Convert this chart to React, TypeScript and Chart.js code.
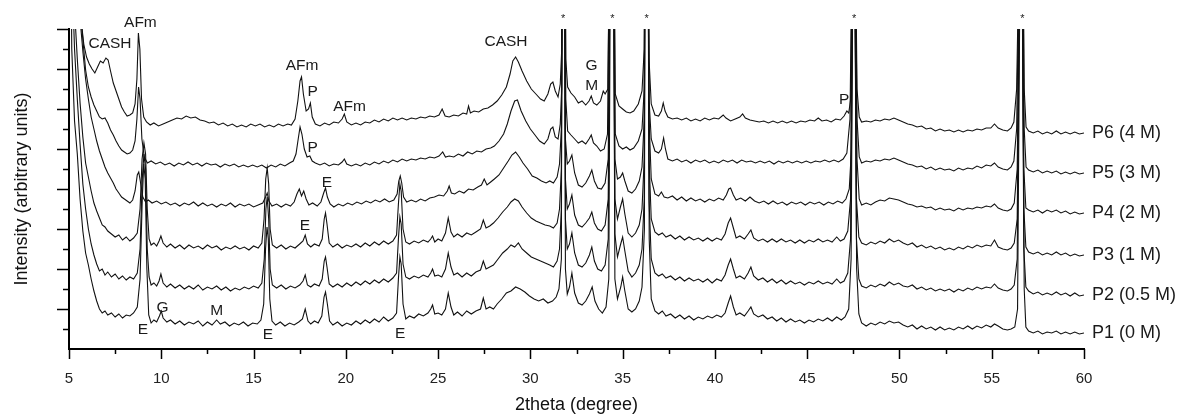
import React, { useEffect, useRef } from 'react';
import { Chart, registerables } from 'chart.js';

Chart.register(...registerables);

const SERIES_LABELS = ['P1 (0 M)', 'P2 (0.5 M)', 'P3 (1 M)', 'P4 (2 M)', 'P5 (3 M)', 'P6 (4 M)'];
const X_MAJOR = [5, 10, 15, 20, 25, 30, 35, 40, 45, 50, 55, 60];
const X_MINOR = [7.5, 12.5, 17.5, 22.5, 27.5, 32.5, 37.5, 42.5, 47.5, 52.5, 57.5];
const Y_MAJOR = [40, 80, 120, 160, 200, 240, 280, 320];
const Y_MINOR = [20, 60, 100, 140, 180, 220, 260, 300];

type Pt = [number, number];

const P1: Pt[] = [
[5.0,600],[5.15,300],[5.3,228],[5.45,195],[5.6,150],[5.75,118],[5.9,96],[6.05,84],[6.2,70],[6.35,58],[6.5,48],[6.65,40],[6.8,36],[6.95,38],[7.1,34],[7.3,36],[7.5,32],[7.7,35],[7.9,31],[8.1,34],[8.3,33],[8.5,36],[8.7,42],[8.85,70],[8.97,150],[9.05,185],[9.13,170],[9.22,80],[9.32,34],[9.45,26],[9.6,29],[9.75,27],[9.9,33],[10.0,38],[10.1,31],[10.3,27],[10.5,29],[10.75,25],[11.0,28],[11.25,24],[11.5,27],[11.75,25],[12.0,28],[12.25,23],[12.5,27],[12.75,24],[13.0,29],[13.2,25],[13.45,27],[13.7,23],[13.95,26],[14.2,24],[14.45,27],[14.7,23],[14.95,26],[15.2,25],[15.4,29],[15.55,45],[15.65,100],[15.73,122],[15.8,110],[15.88,50],[16.0,28],[16.2,24],[16.45,27],[16.7,23],[16.95,26],[17.2,24],[17.45,27],[17.65,30],[17.8,40],[17.95,28],[18.1,25],[18.3,28],[18.5,26],[18.7,33],[18.82,52],[18.9,57],[19.0,45],[19.12,28],[19.3,24],[19.55,27],[19.8,23],[20.05,26],[20.3,24],[20.55,28],[20.8,25],[21.05,29],[21.3,26],[21.55,30],[21.8,27],[22.05,32],[22.3,28],[22.55,31],[22.75,36],[22.85,70],[22.93,92],[23.0,85],[23.1,45],[23.25,30],[23.45,33],[23.7,31],[23.95,35],[24.2,33],[24.45,36],[24.6,40],[24.7,44],[24.82,35],[25.0,36],[25.2,34],[25.4,40],[25.55,56],[25.7,42],[25.85,34],[26.05,37],[26.3,33],[26.55,38],[26.8,35],[27.05,38],[27.3,40],[27.45,51],[27.6,40],[27.8,42],[28.0,40],[28.2,45],[28.45,50],[28.7,56],[28.95,58],[29.2,62],[29.45,60],[29.7,57],[29.95,53],[30.2,50],[30.45,48],[30.7,50],[30.95,46],[31.2,48],[31.4,52],[31.55,60],[31.68,90],[31.73,560],[31.83,560],[31.9,80],[32.0,55],[32.12,62],[32.25,76],[32.4,56],[32.6,46],[32.8,44],[33.0,48],[33.2,55],[33.35,62],[33.5,48],[33.7,40],[33.9,36],[34.1,42],[34.25,70],[34.38,560],[34.48,560],[34.58,70],[34.72,50],[34.9,62],[35.0,72],[35.12,58],[35.3,40],[35.5,37],[35.7,40],[35.9,48],[36.05,62],[36.18,120],[36.24,560],[36.36,560],[36.44,110],[36.55,50],[36.75,38],[36.95,35],[37.15,38],[37.35,33],[37.6,35],[37.85,31],[38.1,34],[38.35,30],[38.6,33],[38.85,29],[39.1,32],[39.35,30],[39.6,33],[39.85,31],[40.1,34],[40.35,32],[40.55,36],[40.72,46],[40.85,53],[41.0,42],[41.15,34],[41.35,36],[41.6,33],[41.8,38],[41.95,42],[42.1,35],[42.35,32],[42.6,34],[42.85,30],[43.1,32],[43.35,28],[43.6,31],[43.85,27],[44.1,30],[44.35,27],[44.6,29],[44.85,26],[45.1,29],[45.35,27],[45.6,30],[45.85,28],[46.1,31],[46.35,28],[46.6,32],[46.85,29],[47.05,32],[47.25,40],[47.38,90],[47.53,560],[47.68,80],[47.8,35],[47.95,26],[48.2,23],[48.45,26],[48.7,24],[48.95,27],[49.2,25],[49.45,28],[49.7,26],[49.95,27],[50.2,24],[50.45,22],[50.7,24],[50.95,20],[51.2,23],[51.45,20],[51.7,22],[51.95,19],[52.2,22],[52.45,19],[52.7,21],[52.95,19],[53.2,22],[53.45,20],[53.7,23],[53.95,20],[54.2,23],[54.45,21],[54.7,24],[54.95,22],[55.15,25],[55.35,23],[55.6,20],[55.85,19],[56.05,20],[56.25,22],[56.4,40],[56.6,560],[56.76,60],[56.85,22],[57.0,18],[57.25,16],[57.5,18],[57.75,15],[58.0,17],[58.25,16],[58.5,18],[58.75,15],[59.0,17],[59.25,15],[59.5,17],[59.75,15],[60.0,16]
];

const P2: Pt[] = [
[5.0,600],[5.15,380],[5.3,300],[5.45,250],[5.6,205],[5.75,165],[5.9,140],[6.05,120],[6.2,105],[6.35,94],[6.5,85],[6.65,78],[6.8,80],[6.95,74],[7.1,77],[7.3,72],[7.5,75],[7.7,70],[7.9,73],[8.1,69],[8.3,72],[8.5,70],[8.7,76],[8.85,100],[8.97,170],[9.06,195],[9.15,180],[9.24,100],[9.34,72],[9.45,64],[9.6,66],[9.75,63],[9.88,68],[9.98,75],[10.1,66],[10.3,62],[10.5,65],[10.75,61],[11.0,64],[11.25,60],[11.5,63],[11.75,60],[12.0,64],[12.25,59],[12.5,62],[12.75,60],[13.0,63],[13.25,59],[13.5,62],[13.75,58],[14.0,61],[14.25,59],[14.5,62],[14.75,60],[15.0,63],[15.25,61],[15.45,66],[15.58,90],[15.67,140],[15.74,152],[15.82,130],[15.9,80],[16.02,64],[16.25,61],[16.5,64],[16.75,60],[17.0,63],[17.25,61],[17.5,64],[17.68,68],[17.8,74],[17.92,64],[18.1,62],[18.3,65],[18.55,63],[18.72,70],[18.83,88],[18.9,92],[18.98,82],[19.1,65],[19.3,62],[19.55,65],[19.8,62],[20.05,66],[20.3,63],[20.55,67],[20.8,64],[21.05,68],[21.3,65],[21.55,69],[21.8,66],[22.05,70],[22.3,67],[22.55,71],[22.75,76],[22.85,110],[22.93,132],[23.0,125],[23.1,85],[23.25,72],[23.45,70],[23.7,73],[23.95,71],[24.2,74],[24.45,72],[24.6,76],[24.7,80],[24.82,73],[25.0,74],[25.2,72],[25.4,80],[25.55,96],[25.7,82],[25.85,74],[26.05,76],[26.3,72],[26.55,76],[26.8,73],[27.05,77],[27.3,79],[27.45,88],[27.6,80],[27.8,82],[28.0,84],[28.25,90],[28.5,96],[28.75,100],[28.95,104],[29.15,102],[29.35,106],[29.55,100],[29.8,96],[30.05,92],[30.3,90],[30.55,88],[30.8,86],[31.05,84],[31.25,82],[31.45,88],[31.58,100],[31.68,140],[31.74,560],[31.84,560],[31.9,130],[32.0,100],[32.12,105],[32.25,116],[32.4,96],[32.6,84],[32.8,82],[33.0,86],[33.2,94],[33.33,102],[33.47,88],[33.65,80],[33.85,78],[34.05,84],[34.22,110],[34.37,560],[34.47,560],[34.58,115],[34.72,92],[34.88,104],[35.0,112],[35.12,98],[35.3,78],[35.5,72],[35.7,76],[35.9,84],[36.05,100],[36.17,150],[36.23,560],[36.35,560],[36.43,150],[36.55,90],[36.75,76],[36.95,73],[37.15,75],[37.35,71],[37.6,73],[37.85,69],[38.1,72],[38.35,68],[38.6,71],[38.85,68],[39.1,70],[39.35,67],[39.6,70],[39.85,66],[40.1,70],[40.35,68],[40.55,74],[40.72,84],[40.85,90],[41.0,80],[41.15,71],[41.35,73],[41.6,70],[41.8,76],[41.95,82],[42.1,73],[42.35,69],[42.6,71],[42.85,67],[43.1,70],[43.35,66],[43.6,69],[43.85,65],[44.1,68],[44.35,65],[44.6,67],[44.85,64],[45.1,67],[45.35,65],[45.6,68],[45.85,65],[46.1,67],[46.35,65],[46.6,70],[46.8,66],[47.0,68],[47.2,76],[47.35,110],[47.52,560],[47.67,110],[47.8,70],[47.95,63],[48.2,61],[48.45,64],[48.7,62],[48.95,65],[49.2,63],[49.45,67],[49.7,64],[49.95,66],[50.2,63],[50.45,62],[50.7,64],[50.95,60],[51.2,62],[51.45,59],[51.7,61],[51.95,58],[52.2,60],[52.45,58],[52.7,60],[52.95,57],[53.2,60],[53.45,58],[53.7,61],[53.95,59],[54.2,62],[54.45,60],[54.7,62],[54.95,61],[55.15,65],[55.35,61],[55.6,59],[55.85,58],[56.05,60],[56.22,64],[56.38,90],[56.59,560],[56.74,100],[56.85,62],[57.0,58],[57.25,55],[57.5,57],[57.75,54],[58.0,56],[58.25,54],[58.5,57],[58.75,54],[59.0,56],[59.25,53],[59.5,56],[59.75,53],[60.0,54]
];

const P3: Pt[] = [
[5.0,600],[5.15,420],[5.3,340],[5.45,290],[5.6,246],[5.75,212],[5.9,186],[6.05,172],[6.2,158],[6.35,146],[6.5,138],[6.65,131],[6.8,124],[6.95,122],[7.1,118],[7.3,115],[7.5,112],[7.7,114],[7.9,109],[8.1,112],[8.3,108],[8.5,111],[8.7,116],[8.85,140],[8.96,190],[9.06,206],[9.15,195],[9.24,140],[9.34,110],[9.45,104],[9.6,106],[9.75,103],[9.88,108],[9.98,113],[10.1,106],[10.3,102],[10.5,105],[10.75,101],[11.0,104],[11.25,100],[11.5,104],[11.75,101],[12.0,103],[12.25,100],[12.5,104],[12.75,101],[13.0,103],[13.25,99],[13.5,102],[13.75,100],[14.0,103],[14.25,100],[14.5,102],[14.75,99],[15.0,103],[15.25,101],[15.45,106],[15.57,130],[15.66,170],[15.74,181],[15.82,165],[15.9,120],[16.02,104],[16.25,101],[16.5,104],[16.75,100],[17.0,103],[17.25,101],[17.5,105],[17.68,108],[17.8,114],[17.92,105],[18.1,102],[18.3,105],[18.55,103],[18.72,110],[18.83,130],[18.9,136],[18.98,125],[19.1,106],[19.3,102],[19.55,105],[19.8,101],[20.05,104],[20.3,102],[20.55,105],[20.8,102],[21.05,106],[21.3,103],[21.55,107],[21.8,104],[22.05,108],[22.3,105],[22.55,108],[22.75,114],[22.85,145],[22.93,165],[23.0,158],[23.1,120],[23.25,107],[23.45,105],[23.7,108],[23.95,106],[24.2,109],[24.45,107],[24.6,110],[24.7,113],[24.82,107],[25.0,110],[25.2,108],[25.4,116],[25.55,131],[25.7,117],[25.85,112],[26.05,115],[26.3,112],[26.55,116],[26.8,114],[27.05,117],[27.3,120],[27.45,129],[27.6,121],[27.8,123],[28.0,126],[28.25,131],[28.5,137],[28.75,142],[28.95,147],[29.15,150],[29.35,148],[29.55,142],[29.8,136],[30.05,131],[30.3,128],[30.55,126],[30.8,124],[31.05,123],[31.25,121],[31.45,126],[31.58,140],[31.68,180],[31.74,560],[31.84,560],[31.9,170],[32.0,140],[32.12,145],[32.25,154],[32.4,134],[32.6,124],[32.8,122],[33.0,126],[33.2,131],[33.33,137],[33.47,126],[33.65,120],[33.85,118],[34.05,124],[34.22,150],[34.37,560],[34.47,560],[34.58,150],[34.72,130],[34.88,142],[35.0,150],[35.12,135],[35.3,116],[35.5,112],[35.7,116],[35.9,124],[36.05,140],[36.17,190],[36.23,560],[36.35,560],[36.43,190],[36.55,130],[36.75,117],[36.95,114],[37.15,116],[37.35,112],[37.6,114],[37.85,110],[38.1,113],[38.35,109],[38.6,112],[38.85,109],[39.1,111],[39.35,108],[39.6,111],[39.85,108],[40.1,111],[40.35,109],[40.55,115],[40.72,126],[40.85,131],[41.0,121],[41.15,111],[41.35,113],[41.6,110],[41.8,115],[41.95,119],[42.1,111],[42.35,108],[42.6,110],[42.85,107],[43.1,110],[43.35,107],[43.6,110],[43.85,107],[44.1,109],[44.35,106],[44.6,109],[44.85,106],[45.1,109],[45.35,107],[45.6,110],[45.85,107],[46.1,109],[46.35,107],[46.6,112],[46.8,108],[47.0,110],[47.2,118],[47.35,150],[47.52,560],[47.67,150],[47.8,112],[47.95,106],[48.2,104],[48.45,107],[48.7,105],[48.95,108],[49.2,106],[49.45,110],[49.7,107],[49.95,109],[50.2,106],[50.45,104],[50.7,106],[50.95,102],[51.2,104],[51.45,101],[51.7,103],[51.95,100],[52.2,102],[52.45,99],[52.7,101],[52.95,99],[53.2,102],[53.45,100],[53.7,103],[53.95,101],[54.2,104],[54.45,102],[54.7,104],[54.95,103],[55.15,109],[55.35,102],[55.6,100],[55.85,99],[56.05,101],[56.22,106],[56.38,130],[56.6,560],[56.74,140],[56.85,102],[57.0,97],[57.25,95],[57.5,97],[57.75,94],[58.0,96],[58.25,94],[58.5,97],[58.75,94],[59.0,96],[59.25,93],[59.5,95],[59.75,93],[60.0,94]
];

const P4: Pt[] = [
[5.0,600],[5.2,480],[5.4,400],[5.6,330],[5.76,296],[5.9,270],[6.05,250],[6.2,232],[6.35,220],[6.5,208],[6.65,198],[6.8,190],[6.95,182],[7.1,176],[7.25,171],[7.4,166],[7.55,160],[7.7,156],[7.85,152],[8.0,150],[8.15,148],[8.3,146],[8.45,149],[8.58,158],[8.7,174],[8.78,177],[8.88,166],[9.0,152],[9.15,147],[9.3,149],[9.5,146],[9.75,148],[10.0,145],[10.25,147],[10.5,144],[10.75,146],[11.0,143],[11.25,146],[11.5,144],[11.75,147],[12.0,143],[12.25,146],[12.5,143],[12.75,145],[13.0,142],[13.25,145],[13.5,143],[13.75,146],[14.0,142],[14.25,145],[14.5,143],[14.75,145],[15.0,142],[15.25,144],[15.5,146],[15.65,152],[15.74,156],[15.83,148],[16.0,143],[16.25,145],[16.5,142],[16.75,145],[17.0,143],[17.2,147],[17.35,155],[17.48,160],[17.6,153],[17.72,158],[17.85,150],[18.0,144],[18.2,146],[18.45,143],[18.65,147],[18.8,156],[18.9,161],[19.0,152],[19.15,145],[19.35,142],[19.6,145],[19.85,143],[20.1,146],[20.35,144],[20.6,147],[20.85,145],[21.1,148],[21.35,146],[21.6,149],[21.85,147],[22.1,150],[22.35,147],[22.6,149],[22.78,155],[22.87,168],[22.95,173],[23.03,166],[23.13,152],[23.3,147],[23.55,149],[23.8,147],[24.05,150],[24.3,148],[24.55,151],[24.8,152],[25.05,154],[25.3,153],[25.5,158],[25.6,163],[25.72,156],[25.9,155],[26.15,158],[26.4,156],[26.65,160],[26.9,159],[27.15,162],[27.35,164],[27.5,170],[27.65,164],[27.85,167],[28.05,170],[28.3,174],[28.55,181],[28.8,188],[29.0,194],[29.2,197],[29.4,192],[29.6,186],[29.85,180],[30.1,173],[30.35,171],[30.6,168],[30.85,166],[31.05,168],[31.25,166],[31.45,172],[31.58,185],[31.68,220],[31.74,560],[31.84,560],[31.9,210],[32.0,185],[32.12,188],[32.25,194],[32.4,176],[32.6,164],[32.8,162],[33.0,166],[33.2,173],[33.33,179],[33.47,168],[33.65,161],[33.85,160],[34.05,166],[34.22,190],[34.37,560],[34.47,560],[34.58,190],[34.72,170],[34.88,172],[35.0,176],[35.12,168],[35.3,158],[35.5,156],[35.7,160],[35.9,168],[36.05,182],[36.17,230],[36.23,560],[36.35,560],[36.43,230],[36.55,170],[36.75,155],[36.95,153],[37.1,157],[37.25,152],[37.45,151],[37.7,153],[37.95,149],[38.2,152],[38.45,148],[38.7,151],[38.95,148],[39.2,150],[39.45,147],[39.7,150],[39.95,148],[40.2,151],[40.45,149],[40.62,154],[40.75,160],[40.85,161],[41.0,154],[41.15,149],[41.4,151],[41.65,148],[41.9,152],[42.15,148],[42.4,146],[42.65,148],[42.9,145],[43.15,148],[43.4,145],[43.65,147],[43.9,144],[44.15,147],[44.4,145],[44.65,147],[44.9,144],[45.15,147],[45.4,145],[45.65,147],[45.9,144],[46.15,147],[46.4,145],[46.65,148],[46.9,146],[47.1,150],[47.28,160],[47.4,200],[47.54,560],[47.7,190],[47.82,150],[47.95,144],[48.2,146],[48.45,144],[48.7,147],[48.95,149],[49.2,148],[49.45,151],[49.7,150],[49.95,149],[50.2,147],[50.45,145],[50.7,144],[50.95,142],[51.2,143],[51.45,141],[51.7,142],[51.95,139],[52.2,141],[52.45,139],[52.7,140],[52.95,138],[53.2,141],[53.45,139],[53.7,141],[53.95,140],[54.2,142],[54.45,141],[54.7,143],[54.95,142],[55.15,145],[55.35,141],[55.6,139],[55.85,138],[56.05,140],[56.22,146],[56.38,180],[56.61,560],[56.74,180],[56.85,141],[57.0,139],[57.25,137],[57.5,139],[57.75,136],[58.0,139],[58.25,137],[58.5,139],[58.75,136],[59.0,138],[59.25,135],[59.5,137],[59.75,135],[60.0,136]
];

const P5: Pt[] = [
[5.0,600],[5.25,480],[5.5,380],[5.7,320],[5.9,279],[6.05,262],[6.2,252],[6.35,244],[6.5,238],[6.65,232],[6.8,230],[6.95,231],[7.1,226],[7.25,219],[7.4,214],[7.55,208],[7.7,203],[7.85,199],[8.0,197],[8.15,195],[8.3,196],[8.45,199],[8.58,208],[8.68,230],[8.77,262],[8.85,250],[8.95,210],[9.08,192],[9.25,186],[9.45,188],[9.7,185],[9.95,187],[10.2,184],[10.45,186],[10.7,183],[10.95,186],[11.2,184],[11.45,187],[11.7,184],[11.95,186],[12.2,183],[12.45,186],[12.7,184],[12.95,185],[13.2,182],[13.45,185],[13.7,183],[13.95,185],[14.2,182],[14.45,184],[14.7,182],[14.95,184],[15.2,182],[15.45,184],[15.7,181],[15.95,184],[16.2,182],[16.45,185],[16.7,183],[16.95,186],[17.15,188],[17.3,195],[17.42,210],[17.52,222],[17.62,215],[17.75,200],[17.9,192],[18.05,193],[18.18,188],[18.35,186],[18.6,184],[18.85,186],[19.1,183],[19.35,185],[19.6,184],[19.8,187],[19.92,190],[20.05,185],[20.3,183],[20.55,185],[20.8,183],[21.05,186],[21.3,184],[21.55,187],[21.8,185],[22.05,188],[22.3,186],[22.55,189],[22.8,187],[23.05,190],[23.3,188],[23.55,190],[23.8,189],[24.05,191],[24.3,190],[24.55,192],[24.8,191],[25.05,193],[25.25,197],[25.4,192],[25.6,193],[25.85,192],[26.1,195],[26.35,193],[26.6,197],[26.85,195],[27.1,198],[27.35,197],[27.6,200],[27.85,201],[28.05,203],[28.3,208],[28.55,215],[28.75,225],[28.95,238],[29.15,248],[29.3,249],[29.5,238],[29.75,228],[30.0,220],[30.25,214],[30.5,208],[30.75,205],[30.95,210],[31.1,220],[31.22,222],[31.35,212],[31.5,210],[31.62,225],[31.7,260],[31.75,560],[31.85,560],[31.92,250],[32.02,218],[32.2,214],[32.4,210],[32.6,206],[32.8,208],[33.0,205],[33.18,210],[33.3,214],[33.42,206],[33.6,203],[33.8,198],[34.0,200],[34.18,215],[34.37,560],[34.47,560],[34.6,215],[34.8,203],[35.0,200],[35.2,202],[35.4,199],[35.6,201],[35.85,208],[36.05,220],[36.17,260],[36.23,560],[36.35,560],[36.43,250],[36.55,210],[36.75,198],[36.95,196],[37.1,200],[37.22,211],[37.32,200],[37.45,190],[37.7,188],[37.95,190],[38.2,187],[38.45,189],[38.7,186],[38.95,189],[39.2,187],[39.45,189],[39.7,186],[39.95,188],[40.2,186],[40.45,189],[40.7,187],[40.95,189],[41.2,186],[41.45,189],[41.7,187],[41.95,188],[42.2,186],[42.45,188],[42.7,186],[42.95,188],[43.2,185],[43.45,188],[43.7,186],[43.95,188],[44.2,186],[44.45,188],[44.7,186],[44.95,188],[45.2,186],[45.45,188],[45.7,187],[45.95,189],[46.2,187],[46.45,189],[46.7,187],[46.95,190],[47.15,196],[47.32,230],[47.53,560],[47.7,230],[47.82,192],[47.95,186],[48.2,188],[48.45,187],[48.7,189],[48.95,188],[49.2,190],[49.45,189],[49.7,191],[49.95,189],[50.2,187],[50.45,185],[50.7,184],[50.95,182],[51.2,183],[51.45,180],[51.7,182],[51.95,179],[52.2,181],[52.45,179],[52.7,180],[52.95,178],[53.2,181],[53.45,179],[53.7,181],[53.95,180],[54.2,183],[54.45,181],[54.7,184],[54.95,183],[55.15,186],[55.35,182],[55.6,180],[55.85,179],[56.05,182],[56.2,188],[56.35,220],[56.62,560],[56.76,220],[56.86,182],[57.0,179],[57.25,177],[57.5,179],[57.75,176],[58.0,178],[58.25,176],[58.5,178],[58.75,175],[59.0,177],[59.25,175],[59.5,177],[59.75,175],[60.0,176]
];

const P6: Pt[] = [
[5.0,600],[5.3,480],[5.5,380],[5.65,330],[5.8,305],[5.95,292],[6.1,285],[6.25,280],[6.4,276],[6.55,282],[6.7,288],[6.85,286],[7.0,291],[7.12,289],[7.25,278],[7.4,266],[7.55,258],[7.7,250],[7.85,242],[8.0,237],[8.15,233],[8.3,234],[8.45,236],[8.58,245],[8.68,270],[8.76,316],[8.84,300],[8.93,250],[9.05,232],[9.2,227],[9.4,224],[9.6,226],[9.85,223],[10.1,225],[10.35,227],[10.6,229],[10.85,231],[11.1,230],[11.35,233],[11.6,231],[11.85,232],[12.1,229],[12.35,228],[12.6,226],[12.85,227],[13.1,224],[13.35,226],[13.6,223],[13.85,225],[14.1,222],[14.35,224],[14.6,222],[14.85,225],[15.1,223],[15.35,225],[15.6,222],[15.85,224],[16.1,222],[16.35,225],[16.6,223],[16.85,225],[17.05,224],[17.25,230],[17.4,248],[17.52,268],[17.6,272],[17.7,255],[17.85,238],[17.98,240],[18.08,246],[18.18,232],[18.35,225],[18.6,223],[18.85,226],[19.1,224],[19.35,227],[19.6,226],[19.8,230],[19.92,235],[20.05,227],[20.3,224],[20.55,226],[20.8,224],[21.05,227],[21.3,226],[21.55,229],[21.8,227],[22.05,230],[22.3,228],[22.55,231],[22.8,229],[23.05,231],[23.3,229],[23.55,231],[23.8,230],[24.05,232],[24.3,231],[24.55,233],[24.8,232],[25.05,234],[25.22,240],[25.38,233],[25.6,232],[25.85,234],[26.1,233],[26.35,236],[26.55,235],[26.65,243],[26.75,236],[26.95,238],[27.2,237],[27.45,240],[27.7,241],[27.95,244],[28.2,248],[28.45,254],[28.7,262],[28.9,275],[29.05,288],[29.2,292],[29.35,287],[29.55,278],[29.8,268],[30.05,260],[30.3,255],[30.55,250],[30.75,248],[30.95,255],[31.1,265],[31.22,267],[31.35,258],[31.5,252],[31.62,265],[31.7,300],[31.75,560],[31.85,560],[31.92,290],[32.02,262],[32.2,256],[32.4,252],[32.6,246],[32.8,248],[33.0,244],[33.18,248],[33.3,253],[33.42,246],[33.6,244],[33.8,248],[33.95,258],[34.05,255],[34.2,260],[34.37,560],[34.47,560],[34.6,255],[34.8,243],[35.0,240],[35.2,237],[35.4,236],[35.6,238],[35.85,245],[36.05,258],[36.17,300],[36.23,560],[36.35,560],[36.43,290],[36.55,245],[36.75,234],[36.95,233],[37.1,238],[37.2,246],[37.3,238],[37.45,232],[37.7,230],[37.95,231],[38.2,229],[38.45,231],[38.7,228],[38.95,230],[39.2,228],[39.45,231],[39.7,229],[39.95,231],[40.2,230],[40.45,234],[40.6,231],[40.85,228],[41.1,230],[41.35,232],[41.5,235],[41.65,231],[41.9,229],[42.15,228],[42.4,227],[42.65,228],[42.9,226],[43.15,228],[43.4,226],[43.65,228],[43.9,226],[44.15,228],[44.4,226],[44.65,228],[44.9,227],[45.15,229],[45.4,228],[45.6,231],[45.8,228],[46.05,229],[46.3,227],[46.55,230],[46.8,229],[47.0,233],[47.15,238],[47.25,236],[47.36,250],[47.53,560],[47.7,260],[47.82,232],[47.95,227],[48.2,228],[48.45,227],[48.7,229],[48.95,228],[49.2,230],[49.45,229],[49.7,231],[49.95,229],[50.2,227],[50.45,225],[50.7,224],[50.95,222],[51.2,223],[51.45,220],[51.7,221],[51.95,218],[52.2,220],[52.45,218],[52.7,219],[52.95,217],[53.2,219],[53.45,217],[53.7,219],[53.95,218],[54.2,220],[54.45,219],[54.7,221],[54.95,221],[55.15,225],[55.35,221],[55.6,219],[55.85,218],[56.05,221],[56.2,227],[56.35,260],[56.63,560],[56.76,260],[56.86,222],[57.0,218],[57.25,216],[57.5,218],[57.75,215],[58.0,217],[58.25,215],[58.5,218],[58.75,215],[59.0,217],[59.25,215],[59.5,217],[59.75,215],[60.0,216]
];

// phase labels: [text, 2theta, intensity]
const PHASE_LABELS: [string, number, number][] = [
  ['CASH', 7.22, 305], ['AFm', 8.87, 326], ['E', 9.01, 19], ['G', 10.07, 41], ['M', 13.0, 38],
  ['E', 15.78, 14], ['AFm', 17.63, 283], ['P', 18.2, 257], ['AFm', 20.2, 242], ['P', 18.2, 201],
  ['E', 18.98, 166], ['E', 17.79, 123], ['E', 22.94, 15], ['CASH', 28.68, 307],
  ['G', 33.32, 283], ['M', 33.32, 263], ['P', 47.0, 249],
];
const STAR_POSITIONS = [31.78, 34.44, 36.3, 47.54, 56.66];

const FONT = '"Liberation Sans", Arial, Helvetica, sans-serif';

const decorPlugin = {
  id: 'decor',
  afterDraw(chart: any) {
    const { ctx, chartArea, scales } = chart;
    const xs = scales.x;
    const ys = scales.y;
    ctx.save();
    ctx.strokeStyle = '#000';
    ctx.lineWidth = 1.5;
    ctx.beginPath();
    for (const v of X_MAJOR) {
      const px = Math.round(xs.getPixelForValue(v)) + 0.5;
      ctx.moveTo(px, chartArea.bottom);
      ctx.lineTo(px, chartArea.bottom + 10);
    }
    for (const v of X_MINOR) {
      const px = Math.round(xs.getPixelForValue(v)) + 0.5;
      ctx.moveTo(px, chartArea.bottom);
      ctx.lineTo(px, chartArea.bottom + 5);
    }
    for (const v of Y_MAJOR) {
      const py = Math.round(ys.getPixelForValue(v)) + 0.5;
      ctx.moveTo(chartArea.left, py);
      ctx.lineTo(chartArea.left - 12, py);
    }
    for (const v of Y_MINOR) {
      const py = Math.round(ys.getPixelForValue(v)) + 0.5;
      ctx.moveTo(chartArea.left, py);
      ctx.lineTo(chartArea.left - 6, py);
    }
    ctx.stroke();

    ctx.fillStyle = '#1a1a1a';
    ctx.textAlign = 'center';
    ctx.textBaseline = 'middle';
    ctx.font = `15.5px ${FONT}`;
    for (const [t, xv, yv] of PHASE_LABELS) {
      ctx.fillText(t, xs.getPixelForValue(xv), ys.getPixelForValue(yv));
    }
    ctx.font = `11px ${FONT}`;
    for (const xv of STAR_POSITIONS) {
      ctx.fillText('*', xs.getPixelForValue(xv), ys.getPixelForValue(330));
    }
    ctx.textAlign = 'left';
    ctx.font = `18px ${FONT}`;
    chart.data.datasets.forEach((ds: any) => {
      const last = ds.data[ds.data.length - 1];
      ctx.fillText(ds.label, chartArea.right + 8, ys.getPixelForValue(last.y));
    });
    ctx.restore();
  },
};

export default function App() {
  const ref = useRef<HTMLCanvasElement>(null);
  useEffect(() => {
    document.body.style.margin = '0';
    const series = [P1, P2, P3, P4, P5, P6];
    const chart = new Chart(ref.current as HTMLCanvasElement, {
      type: 'line',
      data: {
        datasets: series.map((s, i) => ({
          label: SERIES_LABELS[i],
          data: s.map(([x, y]) => ({ x, y })),
          borderColor: '#111',
          borderWidth: 1.1,
          pointRadius: 0,
          tension: 0,
          fill: false,
        })),
      },
      options: {
        responsive: false,
        animation: false,
        devicePixelRatio: 1,
        font: { family: FONT },
        layout: { padding: { top: 29, right: 95, left: 0, bottom: 0 } },
        plugins: { legend: { display: false }, tooltip: { enabled: false } },
        scales: {
          x: {
            type: 'linear',
            min: 5,
            max: 60,
            afterFit: (s: any) => { s.height = 65; },
            afterBuildTicks: (s: any) => { s.ticks = X_MAJOR.map((v) => ({ value: v })); },
            grid: { display: false, drawTicks: false },
            border: { display: true, color: '#000', width: 2 },
            ticks: { font: { size: 15, family: FONT }, color: '#222', padding: 21, maxRotation: 0, autoSkip: false },
            title: { display: true, text: '2theta (degree)', font: { size: 18, family: FONT, lineHeight: 1 }, color: '#111', padding: 0 },
          },
          y: {
            type: 'linear',
            min: 0,
            max: 320,
            afterFit: (s: any) => { s.width = 69; },
            grid: { display: false, drawTicks: false },
            border: { display: true, color: '#000', width: 2 },
            ticks: { display: false, stepSize: 40 },
            title: { display: true, text: 'Intensity (arbitrary units)', font: { size: 18, family: FONT, lineHeight: 1.2 }, color: '#111', padding: { top: 11, bottom: 0 } },
          },
        },
      } as any,
      plugins: [decorPlugin],
    });
    return () => chart.destroy();
  }, []);
  return <canvas ref={ref} width={1179} height={414} style={{ display: 'block' }} />;
}
